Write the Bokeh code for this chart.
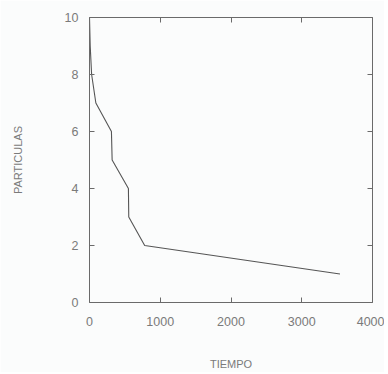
from bokeh.plotting import figure
from bokeh.models import LinearAxis, FixedTicker, Range1d, CustomJSTickFormatter
from bokeh.embed import file_html
from bokeh.resources import INLINE

# Data (time vs. number of particles)
tiempo = [0, 10, 30, 90, 310, 320, 550, 555, 780, 3540]
particulas = [10, 9, 8, 7, 6, 5, 4, 3, 2, 1]

x_ticks = [0, 1000, 2000, 3000, 4000]
y_ticks = [0, 2, 4, 6, 8, 10]

BG = "#fbfcfc"
TXT = "#7a7a7a"
AX = "#6a6a6a"
FONT = "Liberation Sans"

p = figure(width=384, height=372, output_backend="svg", toolbar_location=None,
           x_range=Range1d(0, 4000), y_range=Range1d(0, 10),
           x_axis_location=None, y_axis_location=None,
           min_border_left=89, min_border_right=12, min_border_top=17, min_border_bottom=69)
p.background_fill_color = BG
p.border_fill_color = BG
p.outline_line_color = None
p.xgrid.visible = False
p.ygrid.visible = False

def style(ax, labels=True):
    ax.axis_line_color = AX
    ax.axis_line_width = 1
    ax.major_tick_line_color = AX
    ax.major_tick_in = 5
    ax.major_tick_out = 0
    ax.minor_tick_line_color = None
    ax.major_label_text_color = TXT
    ax.major_label_text_font = FONT
    ax.major_label_text_font_size = "12.5px"
    ax.major_label_standoff = 11 if labels else 0
    if not labels:
        ax.formatter = CustomJSTickFormatter(code="return ''")
    ax.axis_label_text_color = TXT
    ax.axis_label_text_font = FONT
    ax.axis_label_text_font_size = "11px"
    ax.axis_label_text_font_style = "normal"

bottom = LinearAxis(ticker=FixedTicker(ticks=x_ticks), axis_label="TIEMPO")
style(bottom)
bottom.major_label_standoff = 14
bottom.axis_label_standoff = 29
left = LinearAxis(ticker=FixedTicker(ticks=y_ticks), axis_label="PARTICULAS")
style(left)
left.axis_label_standoff = 38
top = LinearAxis(ticker=FixedTicker(ticks=x_ticks))
style(top, labels=False)
right = LinearAxis(ticker=FixedTicker(ticks=y_ticks))
style(right, labels=False)

p.add_layout(bottom, "below")
p.add_layout(left, "left")
p.add_layout(top, "above")
p.add_layout(right, "right")

p.line(tiempo, particulas, line_color="#555555", line_width=1.1)

open("out.html", "w").write(file_html(p, INLINE))
